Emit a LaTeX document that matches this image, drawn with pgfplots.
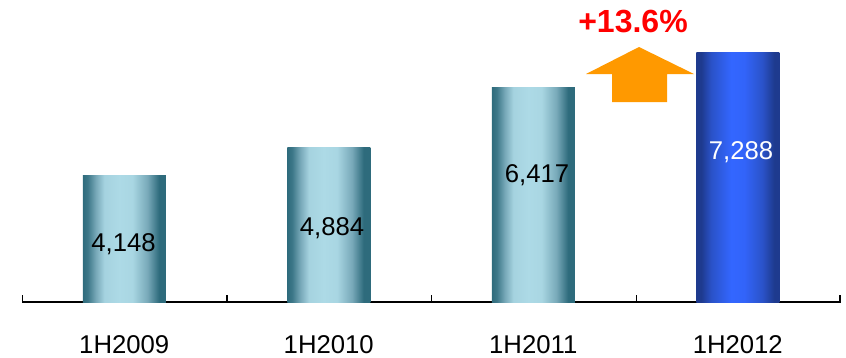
\documentclass[border=0pt]{standalone}
\usepackage{fontspec}
\setmainfont{Liberation Sans}
\usepackage{pgfplots}
\pgfplotsset{compat=1.18}
\definecolor{tdark}{HTML}{2E6B7C}
\definecolor{tmid}{HTML}{78A9B9}
\definecolor{tlight}{HTML}{ADDAE6}
\definecolor{bdark}{HTML}{1E3A8E}
\definecolor{bmid}{HTML}{2A52C8}
\definecolor{blight}{HTML}{3366FF}
\definecolor{arroworange}{HTML}{FF9900}
\pgfdeclarehorizontalshading{tealbar}{100bp}{color(0bp)=(tdark); color(25bp)=(tdark); color(28bp)=(tdark!80!tmid); color(33bp)=(tmid); color(38bp)=(tlight!85!tmid); color(47bp)=(tlight); color(55bp)=(tlight!92!tmid); color(64bp)=(tmid); color(71bp)=(tdark); color(75bp)=(tdark); color(100bp)=(tdark)}
\pgfdeclarehorizontalshading{bluebar}{100bp}{color(0bp)=(bdark); color(25bp)=(bdark); color(28bp)=(bdark); color(34bp)=(bmid); color(46bp)=(blight); color(54bp)=(blight!90!bmid); color(65bp)=(bmid); color(72bp)=(bdark); color(75bp)=(bdark); color(100bp)=(bdark)}
\begin{document}
\begin{tikzpicture}
\begin{axis}[
  scale only axis,
  width=818bp, height=302bp,
  xmin=-0.5, xmax=3.5,
  ymin=931, ymax=8641,
  axis x line=bottom,
  axis y line=none,
  x axis line style={-, line width=1.3bp, black},
  xtick={0,1,2,3},
  xticklabels={1H2009,1H2010,1H2011,1H2012},
  major tick length=0pt,
  xtick style={draw=none},
  xticklabel style={anchor=base, yshift=-51bp, font=\fontsize{25.7bp}{30bp}\selectfont},
  clip=false,
  every axis plot/.append style={ybar, bar width=83bp, bar shift=0pt, draw=none},
]
\addplot[shading=tealbar] coordinates {(0,4148)};
\addplot[shading=tealbar] coordinates {(1,4884)};
\addplot[shading=tealbar] coordinates {(2,6417)};
\addplot[shading=bluebar] coordinates {(3,7288)};
\end{axis}
\begin{scope}[x=1bp, y=-1bp, shift={(-22bp,302bp)}]
  \foreach \t in {22.5,227,431.5,636.5,840} \draw[line width=1.5bp, black] (\t,302.6) -- (\t,295);
  \fill[arroworange] (639,47) -- (694,74) -- (667,74) -- (667,102) -- (612,102) -- (612,74) -- (586,74) -- cycle;
  \node[anchor=base, inner sep=0pt, text=red, font=\fontsize{32bp}{36bp}\selectfont\bfseries] at (633,32) {+13.6\%};
  \begin{scope}[every node/.style={anchor=base, inner sep=0pt, font=\fontsize{25.7bp}{30bp}\selectfont}]
    \node at (123.5,251) {4,148};
    \node at (332,235) {4,884};
    \node at (537,182) {6,417};
    \node[text=white] at (741,159) {7,288};
  \end{scope}
  \pgfresetboundingbox
  \path[use as bounding box] (0,0) rectangle (846,357);
\end{scope}
\end{tikzpicture}
\end{document}
